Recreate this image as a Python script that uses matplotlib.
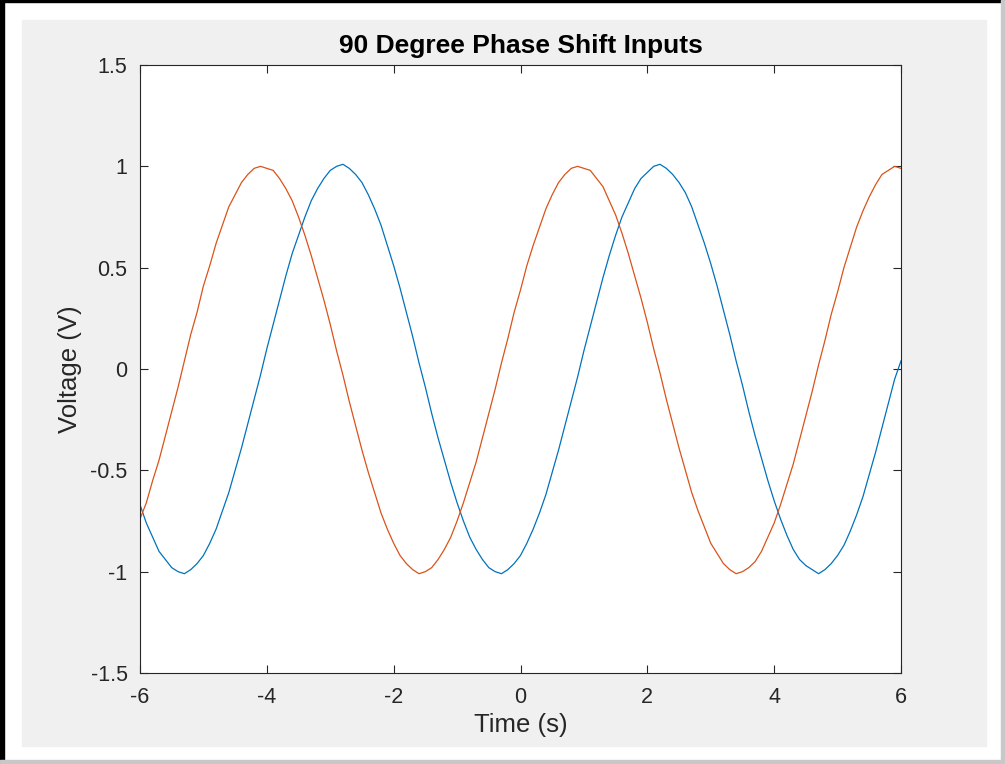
import matplotlib.pyplot as plt
import numpy as np
from matplotlib.patches import Rectangle

plt.rcParams['font.family'] = ['Liberation Sans', 'DejaVu Sans']
plt.rcParams['axes.unicode_minus'] = False

# time axis, 0.1 s steps
time = np.round(np.arange(-60, 61) / 10, 1)

# values (V)
ch1 = [-0.67, -0.76, -0.83, -0.90, -0.94, -0.98, -1.00, -1.01, -0.99, -0.96,
       -0.92, -0.86, -0.79, -0.70, -0.61, -0.50, -0.39, -0.27, -0.15, -0.03,
       0.10, 0.22, 0.34, 0.46, 0.57, 0.66, 0.75, 0.83, 0.89, 0.94,
       0.98, 1.00, 1.01, 0.99, 0.96, 0.92, 0.86, 0.79, 0.71, 0.61,
       0.51, 0.40, 0.28, 0.16, 0.03, -0.09, -0.22, -0.34, -0.45, -0.56,
       -0.66, -0.75, -0.83, -0.89, -0.94, -0.98, -1.00, -1.01, -0.99, -0.96,
       -0.92, -0.86, -0.79, -0.71, -0.62, -0.51, -0.40, -0.28, -0.16, -0.04,
       0.09, 0.21, 0.33, 0.45, 0.56, 0.66, 0.75, 0.82, 0.89, 0.94,
       0.97, 1.00, 1.01, 0.99, 0.96, 0.92, 0.87, 0.80, 0.71, 0.62,
       0.52, 0.41, 0.29, 0.17, 0.04, -0.08, -0.21, -0.33, -0.44, -0.55,
       -0.65, -0.74, -0.82, -0.89, -0.94, -0.97, -0.99, -1.01, -0.99, -0.96,
       -0.92, -0.87, -0.80, -0.72, -0.63, -0.52, -0.41, -0.29, -0.17, -0.05,
       0.04]

ch2 = [-0.74, -0.66, -0.55, -0.45, -0.33, -0.21, -0.09, 0.04, 0.17, 0.28,
       0.41, 0.51, 0.62, 0.71, 0.80, 0.86, 0.92, 0.96, 0.99, 1.00,
       0.99, 0.98, 0.94, 0.89, 0.83, 0.75, 0.66, 0.56, 0.45, 0.34,
       0.22, 0.09, -0.03, -0.16, -0.28, -0.40, -0.51, -0.61, -0.71, -0.79,
       -0.86, -0.92, -0.96, -0.99, -1.01, -1.00, -0.98, -0.94, -0.89, -0.83,
       -0.75, -0.66, -0.56, -0.46, -0.34, -0.22, -0.10, 0.03, 0.15, 0.28,
       0.39, 0.51, 0.61, 0.70, 0.79, 0.86, 0.92, 0.96, 0.99, 1.00,
       0.99, 0.98, 0.94, 0.90, 0.83, 0.76, 0.67, 0.57, 0.46, 0.35,
       0.23, 0.10, -0.02, -0.15, -0.27, -0.39, -0.50, -0.61, -0.70, -0.78,
       -0.86, -0.91, -0.96, -0.99, -1.01, -1.00, -0.98, -0.95, -0.90, -0.83,
       -0.76, -0.67, -0.57, -0.47, -0.35, -0.23, -0.11, 0.02, 0.14, 0.27,
       0.38, 0.50, 0.60, 0.70, 0.78, 0.85, 0.91, 0.96, 0.98, 1.00,
       0.99]

xticks = [-6, -4, -2, 0, 2, 4, 6]
xticklabels = ['-6', '-4', '-2', '0', '2', '4', '6']
yticks = [-1.5, -1, -0.5, 0, 0.5, 1, 1.5]
yticklabels = ['-1.5', '-1', '-0.5', '0', '0.5', '1', '1.5']

W, H = 1005, 764
fig = plt.figure(figsize=(W / 100, H / 100), dpi=100)
fig.patch.set_facecolor('white')

# grey figure window area + thin borders
fig.add_artist(Rectangle((22 / W, 1 - 746 / H), 964 / W, 726 / H,
                         transform=fig.transFigure, color='#f0f0f0', zorder=0))
fig.add_artist(Rectangle((0, 0), 4 / W, 1, transform=fig.transFigure,
                         color='black', zorder=0))
fig.add_artist(Rectangle((0, 1 - 2 / H), 1, 2 / H, transform=fig.transFigure,
                         color='black', zorder=0))
fig.add_artist(Rectangle((1001 / W, 0), 3 / W, 1, transform=fig.transFigure,
                         color='#c8c8c8', zorder=0))
fig.add_artist(Rectangle((0, 1 / H), 1, 3 / H, transform=fig.transFigure,
                         color='#c8c8c8', zorder=0))

ax = fig.add_axes([140 / W, 1 - 673 / H, 761 / W, 608 / H])
ax.plot(time, ch1, color='#0072BD', lw=0.9)
ax.plot(time, ch2, color='#D95319', lw=0.9)

ax.set_xlim(-6, 6)
ax.set_ylim(-1.5, 1.5)
ax.set_xticks(xticks)
ax.set_xticklabels(xticklabels)
ax.set_yticks(yticks)
ax.set_yticklabels(yticklabels)
ax.tick_params(direction='in', length=6, width=0.8, colors='#262626',
               labelsize=15.5, top=True, right=True)
ax.tick_params(axis='x', pad=10)
ax.tick_params(axis='y', pad=9)
for s in ax.spines.values():
    s.set_color('#262626')
    s.set_linewidth(0.8)

ax.set_title("90 Degree Phase Shift Inputs", fontsize=19, fontweight='bold',
             color='black', pad=9)
ax.set_xlabel("Time (s)", fontsize=18.5, color='#262626', labelpad=4)
ax.set_ylabel("Voltage (V)", fontsize=18.5, color='#262626', labelpad=6)

fig.savefig("out.png", dpi=100)
